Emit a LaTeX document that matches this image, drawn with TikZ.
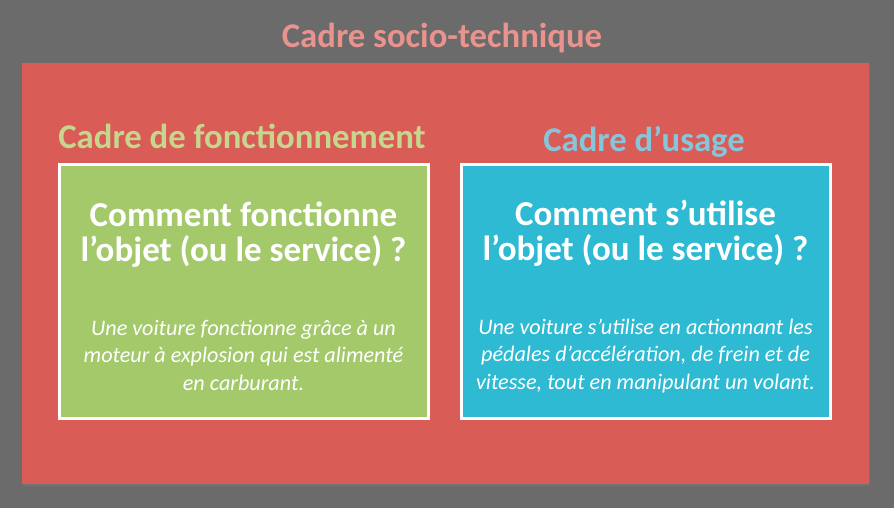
\documentclass[tikz,border=0pt]{standalone}
\usepackage{fontspec}
\setmainfont{Carlito}
\usetikzlibrary{shadows}
\definecolor{fondgris}{HTML}{6B6B6B}
\definecolor{cadrerouge}{HTML}{DA5C57}
\definecolor{titrerose}{HTML}{E8938E}
\definecolor{boitevert}{HTML}{A3C96B}
\definecolor{boitebleu}{HTML}{2EBAD2}
\definecolor{titrevert}{HTML}{C6D68D}
\definecolor{titrebleu}{HTML}{86C6DA}
\tikzset{
	boite/.style={draw=white, line width=3pt, drop shadow={shadow xshift=1pt, shadow yshift=-2pt, opacity=.35}},
	titre/.style={font=\bfseries\fontsize{34.7}{36}\selectfont, anchor=base},
	question/.style={text=white, font=\bfseries\fontsize{35}{35}\selectfont, align=center, anchor=base},
	exemple/.style={text=white, font=\itshape\fontsize{22.2}{27.5}\selectfont, align=center, anchor=base},
}

\begin{document}
\begin{tikzpicture}[x=1pt, y=-1pt]
		%%%%% FOND %%%%%
		\fill[fondgris] (0, 0) rectangle (894, 508);
		\useasboundingbox (0, 0) rectangle (894, 508);
		
		\fill[cadrerouge, drop shadow={shadow xshift=1pt, shadow yshift=-2pt, opacity=.4}] (22, 63) rectangle (869, 484);
		\node[titre, text=titrerose] (socio) at (442, 48) {Cadre socio-technique};
		
		%%%%% FONCTIONNEMENT %%%%%
		\node[titre, text=titrevert] (titreFonct) at (242, 149) {Cadre de fonctionnement};
		\draw[boite, fill=boitevert] (59, 164) rectangle (428, 418);
		\node[question] (questFonct) at (243.5, 261) {Comment fonctionne\\l’objet (ou le service) ?};
		\node[exemple] (exFonct) at (243.5, 390) {Une voiture fonctionne grâce à un\\moteur à explosion qui est alimenté\\en carburant.};
		
		%%%%% USAGE %%%%%
		\node[titre, text=titrebleu] (titreUsage) at (644, 151) {Cadre d’usage};
		\draw[boite, fill=boitebleu] (461, 164) rectangle (830, 418);
		\node[question] (questUsage) at (645.5, 260) {Comment s’utilise\\l’objet (ou le service) ?};
		\node[exemple] (exUsage) at (645.5, 389) {Une voiture s’utilise en actionnant les\\pédales d’accélération, de frein et de\\vitesse, tout en manipulant un volant.};
		
\end{tikzpicture}
\end{document}
